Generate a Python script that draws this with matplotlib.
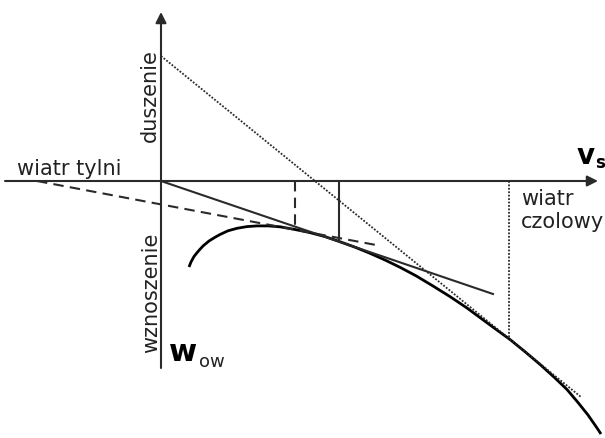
#!/usr/bin/env python3

import matplotlib
matplotlib.use("Agg")
import matplotlib.pyplot as plt

# biegunowa predkosci (vs, w) w jednostkach rysunku, poczatek ukladu = (0, 0)
polar_vs = [28, 30, 33, 37, 42, 48, 54, 59, 67, 76, 86, 96, 107, 119, 134, 149,
            164, 178, 194, 209, 224, 239, 255, 272, 289, 306, 327, 349, 364,
            379, 394, 406, 417, 427, 435, 440]
polar_w = [-86, -81, -75.5, -70.5, -65, -60, -56.3, -53.5, -49.8, -47.3, -45.6,
           -44.9, -44.9, -45.8, -48.5, -51.6, -55.6, -60.4, -66.2, -72.3, -79,
           -86.3, -94.8, -105, -115.6, -127, -142.5, -158.5, -170.7, -183.4,
           -197, -208.5, -221.5, -234, -245.5, -253]

# styczne
calm_vs, calm_w = [0, 332], [0, -113]            # bez wiatru
tail_vs, tail_w = [-124, 215], [0, -64]          # wiatr tylni
sink_vs, sink_w = [0, 420], [125, -216]          # duszenie / wiatr czolowy

# pionowe odcinki do punktow stycznosci
tail_touch = (134, -48.5)
calm_touch = (178, -60.4)
head_touch = (348, -157)

axis_col = "#2a2a2a"
text_col = "#222222"


def main():
  fig = plt.figure(figsize=(6.05, 4.39), dpi=100)
  ax = fig.add_axes([0, 0, 1, 1])
  ax.set_xlim(-161, 444)
  ax.set_ylim(-257, 182)
  ax.axis("off")

  # osie ze strzalkami
  arrow = dict(arrowstyle="-|>", color=axis_col, lw=1.5, mutation_scale=16,
               shrinkA=0, shrinkB=0)
  ax.annotate("", xy=(437, 0), xytext=(-156, 0), arrowprops=arrow)
  ax.annotate("", xy=(0, 169), xytext=(0, -187), arrowprops=arrow)

  # krzywa biegunowa
  ax.plot(polar_vs, polar_w, "-", color="black", lw=2.0, solid_capstyle="butt")

  # styczne
  ax.plot(calm_vs, calm_w, "-", color=axis_col, lw=1.5)
  ax.plot(tail_vs, tail_w, color=axis_col, lw=1.5, linestyle=(0, (5, 3)))
  ax.plot(sink_vs, sink_w, color=axis_col, lw=1.3, linestyle=(0, (1.0, 0.9)))

  # pionowe odcinki
  ax.plot([tail_touch[0]] * 2, [0, tail_touch[1]], color=axis_col, lw=1.5,
          linestyle=(0, (5, 3)))
  ax.plot([calm_touch[0]] * 2, [0, calm_touch[1]], "-", color=axis_col, lw=1.5)
  ax.plot([head_touch[0]] * 2, [0, head_touch[1]], color=axis_col, lw=1.3,
          linestyle=(0, (1.0, 0.9)))

  kw = dict(fontsize=15, color=text_col, family="DejaVu Sans")
  ax.text(-144, 7, "wiatr tylni", ha="left", va="baseline", **kw)
  ax.text(360, -23, "wiatr", ha="left", va="baseline", **kw)
  ax.text(360, -46, "czolowy", ha="left", va="baseline", **kw)
  ax.text(-5, 40, "duszenie", rotation=90, rotation_mode="anchor",
          ha="left", va="baseline", **kw)
  ax.text(-4, -171, "wznoszenie", rotation=90, rotation_mode="anchor",
          ha="left", va="baseline", **kw)

  # oznaczenia osi
  ax.text(8, -179, "w", fontsize=22, fontweight="bold", color="black",
          ha="left", va="baseline")
  ax.text(38, -185, "ow", fontsize=13, color=text_col, ha="left", va="baseline")
  ax.text(416, 18, "v", fontsize=20, fontweight="bold", color="black",
          ha="left", va="baseline")
  ax.text(434, 14, "s", fontsize=12, fontweight="bold", color="black",
          ha="left", va="baseline")

  fig.savefig("out.png", dpi=100, facecolor="white")


if __name__ == '__main__':
  main()
